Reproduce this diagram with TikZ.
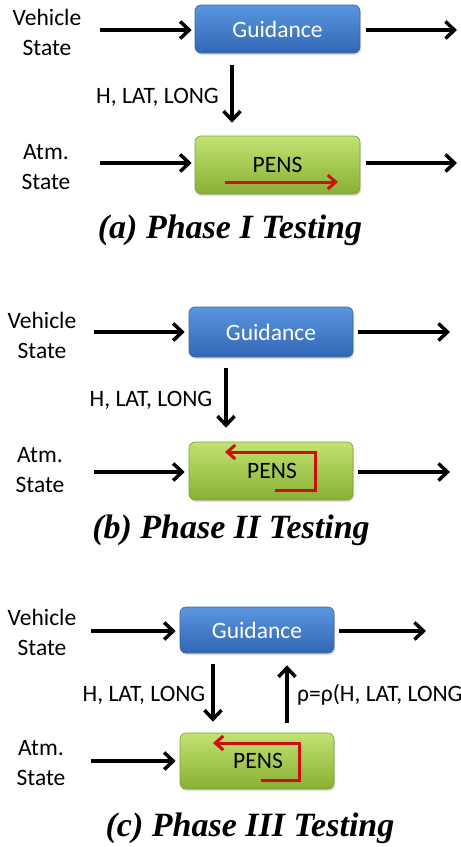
\documentclass[tikz,border=0pt]{standalone}
\usepackage{fontspec}
\setmainfont{Carlito}
\newfontfamily\capfont{Liberation Serif}
\usetikzlibrary{arrows.meta,shadows}
\definecolor{guidtop}{RGB}{90,150,224}
\definecolor{guidbot}{RGB}{50,102,180}
\definecolor{guidline}{RGB}{58,98,160}
\definecolor{penstop}{RGB}{194,226,114}
\definecolor{pensbot}{RGB}{136,176,50}
\definecolor{pensline}{RGB}{122,158,52}
\definecolor{pathred}{RGB}{204,16,16}
\tikzset{
    every node/.style={inner sep=0pt, font=\fontsize{23.5}{30}\selectfont}
}
\tikzset{
    guidbox/.style={draw=guidline, line width=0.6pt, rounded corners=6pt,
    	top color=guidtop, bottom color=guidbot, text=white,
    	drop shadow={shadow xshift=1pt, shadow yshift=-2pt, opacity=0.25}},
    pensbox/.style={draw=pensline, line width=0.6pt, rounded corners=6pt,
    	top color=penstop, bottom color=pensbot,
    	drop shadow={shadow xshift=1pt, shadow yshift=-2pt, opacity=0.25}},
    flow/.style={line width=3.5pt, -{Straight Barb[length=9pt, width=17pt]}},
    redflow/.style={line width=3pt, pathred, -{Straight Barb[length=8pt, width=14pt]}},
    phasecap/.style={font=\capfont\fontsize{34}{40}\bfseries\itshape\selectfont}
}

\begin{document}
\begin{tikzpicture}[x=1pt, y=-1pt]
	\useasboundingbox (0,0) rectangle (461,847);

	% (a) Phase I
	\node (gA) [guidbox, minimum width=165pt, minimum height=48pt] at (277.5, 29) {Guidance};
	\node (pA) [pensbox, minimum width=165pt, minimum height=58pt] at (277.5, 165) {PENS};
	\node (vA) [align=center] at (47, 32) {Vehicle\\State};
	\node (aA) [align=center] at (46, 167.5) {Atm.\\State};
	\node (hA) at (157.5, 97) {H, LAT, LONG};
	\node (cA) [phasecap] at (230, 230) {(a) Phase I Testing};
	\coordinate (vinA) at (100, 30);
	\coordinate (voutA) at (457, 30);
	\coordinate (ainA) at (100, 163);
	\coordinate (aoutA) at (457, 163);
	\coordinate (dA) at (232, 0);
	\draw[flow, shorten >=3pt] (vinA) -- (gA.west |- vinA);
	\draw[flow, shorten <=6pt] (gA.east |- voutA) -- (voutA);
	\draw[flow, shorten >=3pt] (ainA) -- (pA.west |- ainA);
	\draw[flow, shorten <=6pt] (pA.east |- aoutA) -- (aoutA);
	\draw[flow, shorten <=12pt, shorten >=13pt] (gA.south -| dA) -- (pA.north -| dA);
	\draw[redflow] (225, 182) -- (338, 182);

	% (b) Phase II
	\node (gB) [guidbox, minimum width=164pt, minimum height=50pt] at (271, 332) {Guidance};
	\node (pB) [pensbox, minimum width=164pt, minimum height=58pt] at (271, 471) {\hspace*{2pt}PENS};
	\node (vB) [align=center] at (42, 335) {Vehicle\\State};
	\node (aB) [align=center] at (40, 470.5) {Atm.\\State};
	\node (hB) at (151, 400) {H, LAT, LONG};
	\node (cB) [phasecap] at (231, 530) {(b) Phase II Testing};
	\coordinate (vinB) at (94, 332);
	\coordinate (voutB) at (450, 332);
	\coordinate (ainB) at (94, 472);
	\coordinate (aoutB) at (450, 472);
	\coordinate (dB) at (226, 0);
	\draw[flow, shorten >=4pt] (vinB) -- (gB.west |- vinB);
	\draw[flow, shorten <=5pt] (gB.east |- voutB) -- (voutB);
	\draw[flow, shorten >=4pt] (ainB) -- (pB.west |- ainB);
	\draw[flow, shorten <=5pt] (pB.east |- aoutB) -- (aoutB);
	\draw[flow, shorten <=11pt, shorten >=14pt] (gB.south -| dB) -- (pB.north -| dB);
	\draw[redflow] (275, 490) -- (315, 490) -- (315, 452) -- (225, 452);

	% (c) Phase III
	\node (gC) [guidbox, minimum width=154pt, minimum height=46pt] at (257, 630) {Guidance};
	\node (pC) [pensbox, minimum width=154pt, minimum height=56pt] at (257, 761) {\hspace*{2pt}PENS};
	\node (vC) [align=center] at (42, 632.5) {Vehicle\\State};
	\node (aC) [align=center] at (41, 763.5) {Atm.\\State};
	\node (hC) at (144, 695) {H, LAT, LONG};
	\node (rC) [anchor=west] at (297, 695) {ρ=ρ(H, LAT, LONG};
	\node (cC) [phasecap] at (250, 828) {(c) Phase III Testing};
	\coordinate (vinC) at (91, 631);
	\coordinate (voutC) at (426, 631);
	\coordinate (ainC) at (91, 761);
	\coordinate (dC) at (213, 0);
	\coordinate (uC) at (287, 0);
	\draw[flow, shorten >=4pt] (vinC) -- (gC.west |- vinC);
	\draw[flow, shorten <=5pt] (gC.east |- voutC) -- (voutC);
	\draw[flow, shorten >=4pt] (ainC) -- (pC.west |- ainC);
	\draw[flow, shorten <=11pt, shorten >=11pt] (gC.south -| dC) -- (pC.north -| dC);
	\draw[flow, shorten <=10pt, shorten >=12pt] (pC.north -| uC) -- (gC.south -| uC);
	\draw[redflow] (261, 780) -- (299, 780) -- (299, 743) -- (213, 743);
\end{tikzpicture}
\end{document}
